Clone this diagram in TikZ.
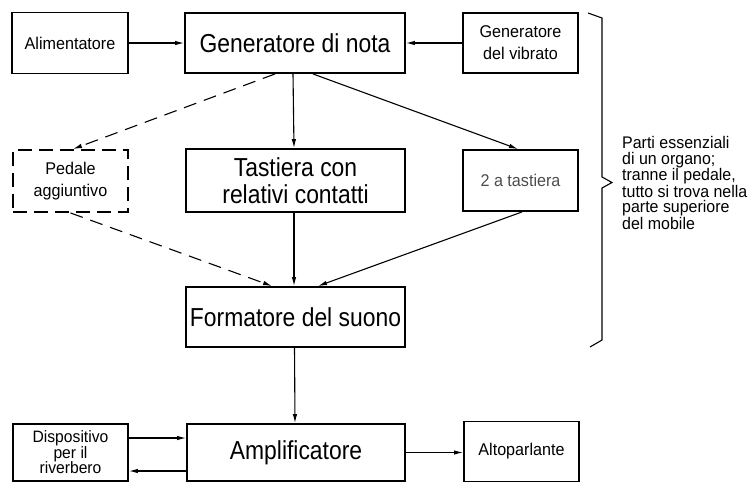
\documentclass[tikz,border=0pt]{standalone}
\usepackage{fontspec}
\setmainfont{Liberation Sans}
\newfontfamily\bigf{Liberation Sans}[FakeStretch=0.88]
\newfontfamily\smf{Liberation Sans}[FakeStretch=0.95]
\usetikzlibrary{arrows.meta}
\begin{document}
\begin{tikzpicture}[x=1pt,y=-1pt,
  bigbox/.style={draw,line width=1.9pt,inner sep=0pt,align=center,
    font=\bigf\fontsize{26}{27}\selectfont},
  smbox/.style={draw,line width=1.9pt,inner sep=0pt,align=center,
    font=\smf\fontsize{17}{22}\selectfont},
  dashbox/.style={smbox,dash pattern=on 14pt off 7pt},
  conn/.style={line width=1.1pt,-{Latex[length=9pt,width=4.5pt]}},
  dconn/.style={conn,dash pattern=on 13pt off 8pt},
  bracetext/.style={align=left,inner sep=0pt,anchor=west,
    font=\smf\fontsize{16.8}{15.6}\selectfont}]
\useasboundingbox (0,0) rectangle (755,483);
% nodes
\node[smbox,minimum width=116pt,minimum height=61pt] (alim) at (70,43) {Alimentatore};
\node[bigbox,minimum width=220pt,minimum height=60pt] (gen) at (295,43) {Generatore di nota};
\node[smbox,minimum width=115pt,minimum height=60pt] (vib) at (520.5,43) {Generatore\\del vibrato};
\node[dashbox,minimum width=115pt,minimum height=62pt] (ped) at (70.5,181) {Pedale\\aggiuntivo};
\node[bigbox,minimum width=219pt,minimum height=63pt] (tast) at (295.5,180.5) {Tastiera con\\relativi contatti};
\node[smbox,minimum width=115pt,minimum height=61pt,text=black!70] (sec) at (520.5,180.5) {2 a tastiera};
\node[bigbox,minimum width=219pt,minimum height=60pt] (form) at (295.5,317) {Formatore del suono};
\node[bigbox,minimum width=218pt,minimum height=57pt] (amp) at (296,452.5) {Amplificatore};
\node[smbox,minimum width=115pt,minimum height=57pt,font=\smf\fontsize{16.5}{15.5}\selectfont] (disp) at (70.5,452.5) {Dispositivo\\per il\\riverbero};
\node[smbox,minimum width=115pt,minimum height=60pt] (alto) at (521.5,451.5) {Altoparlante};
% connectors
\draw[conn] (alim) -- (gen);
\draw[conn] (vib) -- (gen);
\draw[conn] ([xshift=-2pt]gen.south) -- ([xshift=-1.5pt]tast.north);
\draw[dconn] ([xshift=-20pt]gen.south) -- ([xshift=2.5pt]ped.north);
\draw[conn] ([xshift=18pt]gen.south) -- ([xshift=-2.5pt]sec.north);
\draw[dconn] (ped.south) -- ([xshift=-23.5pt]form.north);
\draw[conn] ([xshift=-1.5pt]tast.south) -- ([xshift=-1.5pt]form.north);
\draw[conn] ([xshift=1.5pt]sec.south) -- ([xshift=22.5pt]form.north);
\draw[conn] ([xshift=-1pt]form.south) -- ([xshift=-1pt]amp.north);
\draw[conn] ([yshift=14.5pt]disp.east) -- ([yshift=14.5pt]disp.east -| amp.west);
\draw[conn] ([yshift=-18.5pt]amp.west) -- ([yshift=-18.5pt]amp.west -| disp.east);
\draw[conn] (amp.east) -- (amp.east -| alto.west);
% brace
\draw[line width=1.1pt,line join=miter] (588,13) -- (602,18) -- (602,177) -- (612,182.5) -- (602,188) -- (602,340) -- (590,347);
\node[bracetext] (txt) at (622,183) {Parti essenziali\\di un organo;\\tranne il pedale,\\tutto si trova nella\\parte superiore\\del mobile};
\end{tikzpicture}
\end{document}
